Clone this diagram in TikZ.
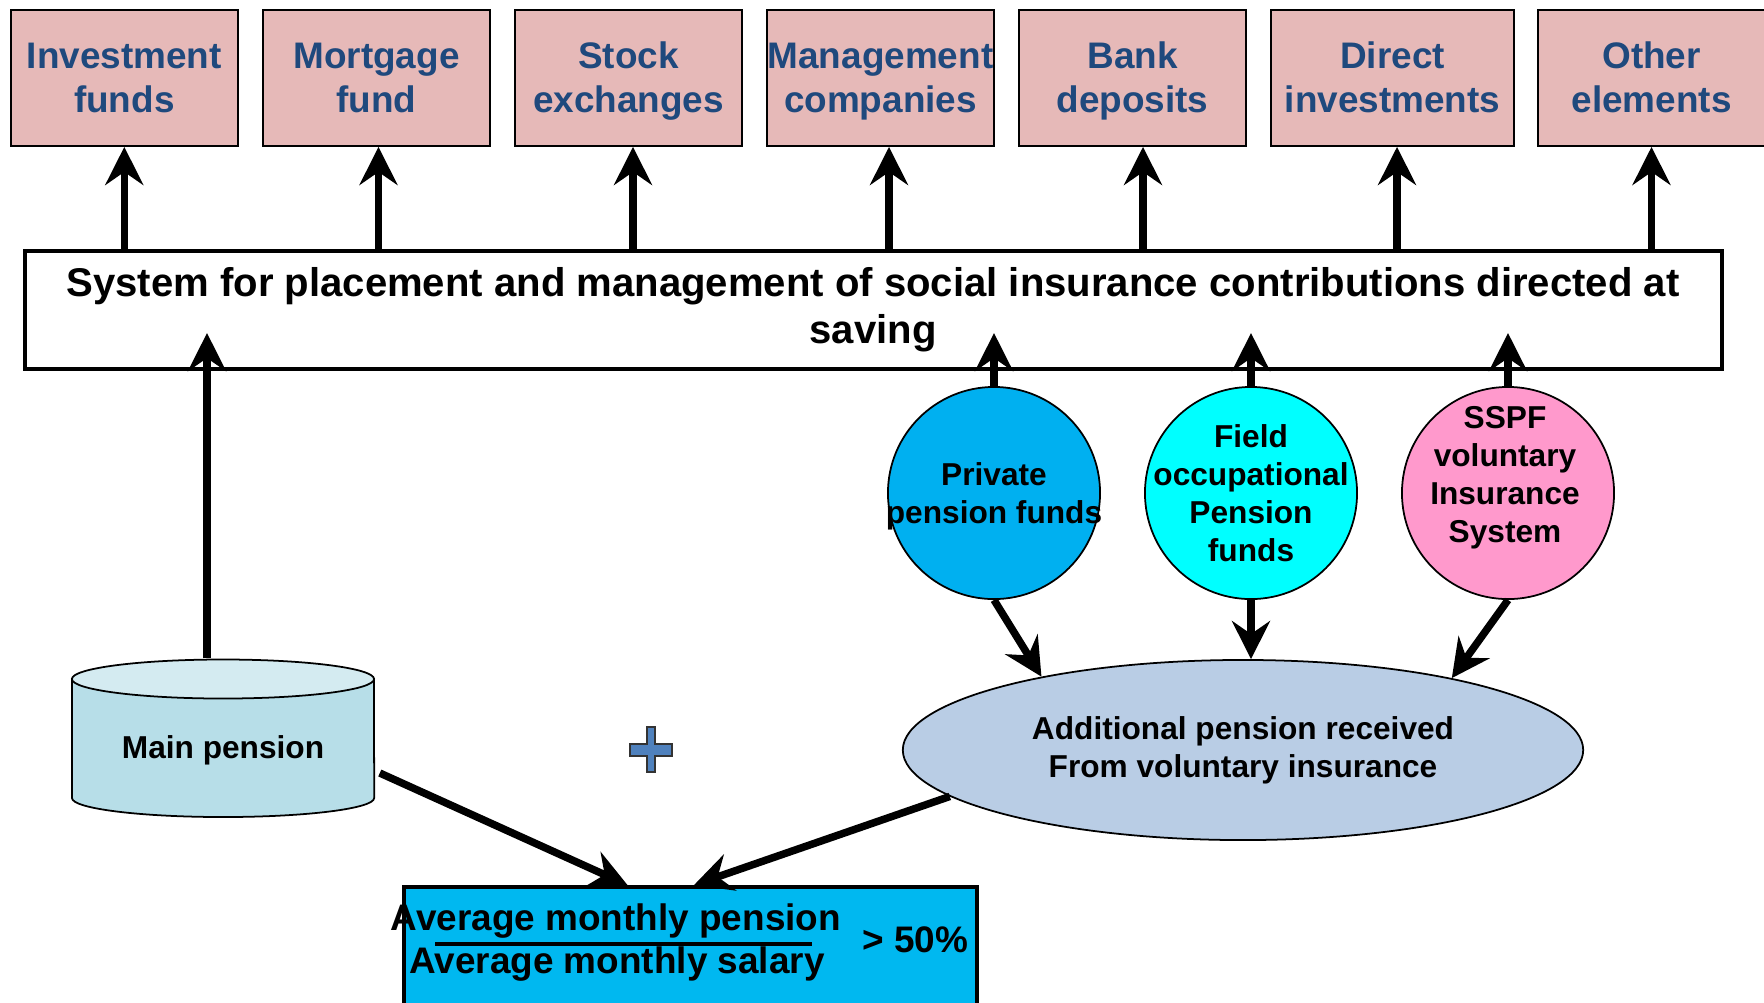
\documentclass[tikz,border=0pt]{standalone}
\usepackage{fontspec}
\setmainfont{Liberation Sans}
\usetikzlibrary{shapes.geometric, arrows.meta, positioning, calc}
\definecolor{boxpink}{HTML}{E6B9B8}
\definecolor{textblue}{HTML}{1F497D}
\definecolor{pfblue}{HTML}{00B0F0}
\definecolor{ofcyan}{HTML}{00FFFF}
\definecolor{svpink}{HTML}{FF99CC}
\definecolor{addblue}{HTML}{B9CDE5}
\definecolor{resblue}{HTML}{00B8F0}
\definecolor{cylbody}{HTML}{B7DEE8}
\definecolor{cyltop}{HTML}{D4EBF1}
\definecolor{plusblue}{HTML}{4F81BD}

\begin{document}
\begin{tikzpicture}[x=0.01cm, y=-0.01cm,
  topbox/.style={draw=black, line width=0.5pt, fill=boxpink, text=textblue,
    font=\bfseries\fontsize{10.5}{12.5}\selectfont, align=center,
    minimum height=1.36cm, inner xsep=0pt, text height=22.6pt, text depth=3pt},
  arr/.style={line width=0.075cm, -{Stealth[length=0.38cm, width=0.38cm, inset=0.13cm]}},
  circ/.style={circle, draw=black, line width=0.5pt, minimum size=2.12cm, inner sep=0pt},
  ctext/.style={font=\bfseries\fontsize{9}{10.8}\selectfont, align=center},
  restext/.style={font=\bfseries\fontsize{10.5}{12.5}\selectfont, anchor=base}]

  \useasboundingbox (0,0) rectangle (1764,1002);
  \clip (0,0) rectangle (1764,1002);

  % Placement targets (TOP ROW)
  \foreach \n/\x/\w/\txt in {1/124.3/2.27/{Investment\\funds}, 2/376.5/2.27/{Mortgage\\fund},
      3/628.5/2.27/{Stock\\exchanges}, 4/880.5/2.27/{Management\\companies},
      5/1132.5/2.27/{Bank\\deposits}, 6/1392.5/2.43/{Direct\\investments},
      7/1651.5/2.27/{Other\\elements}}
    \node[topbox, minimum width=\w cm] (t\n) at (\x,78) {\txt};

  % Central system box
  \node[draw, line width=0.04cm, fill=white, minimum width=16.96cm, minimum height=1.18cm,
    font=\bfseries\fontsize{11.4}{13.4}\selectfont, align=center] (sys) at (873,310)
    {System for placement and management of social insurance contributions directed at\\saving};

  \foreach \n/\d in {1/0, 2/2, 3/4.5, 4/8.5, 5/10.5, 6/4.5, 7/0}
    \draw[arr] ($(sys.north -| t\n.south)+(\d,0)$) -- ($(t\n.south)+(\d,0)$);

  % Voluntary insurance funds (circles)
  \node[circ, fill=pfblue] (pf) at (994,493) {};
  \node[ctext] (pft) at ($(pf)+(0,3)$) {Private\\pension funds};
  \node[circ, fill=ofcyan] (of) at (1251,493) {};
  \node[ctext] (oft) at (of) {Field\\occupational\\Pension\\funds};
  \node[circ, fill=svpink] (sv) at (1508,493) {};
  \node[ctext] (svt) at ($(sv)+(-3,-15)$) {SSPF\\voluntary\\Insurance\\System};

  \foreach \c in {pf, of, sv}
    \draw[arr] (\c.north) -- ($(\c.north |- sys.south)+(0,-38)$);

  % Additional pension
  \node[ellipse, draw=black, line width=0.5pt, fill=addblue, minimum width=6.8cm,
    minimum height=1.8cm, ctext] (addp) at (1243,750)
    {Additional pension received\\From voluntary insurance};

  \draw[arr] (pf.south) -- (addp.160);
  \draw[arr] (of.south) -- (of.south |- addp.north);
  \draw[arr] (sv.south) -- (addp.19);

  % Main pension (cylinder)
  \fill[cylbody, draw=black, line width=0.5pt] (72,679) -- (72,798)
    arc[start angle=180, end angle=360, x radius=1.51cm, y radius=0.19cm] -- (374,679) -- cycle;
  \filldraw[fill=cyltop, line width=0.5pt] (223,679) ellipse[x radius=1.51cm, y radius=0.195cm];
  \node[minimum width=3.02cm, minimum height=1.58cm] (mp) at (223,738) {};
  \node[ctext] (mpt) at ($(mp)+(0,12)$) {Main pension};

  \draw[arr] ($(mp.north)+(-16,0)$) -- ($(mp.north |- sys.south)+(-16,-38)$);

  % Plus sign
  \filldraw[fill=plusblue, draw=black!80, line width=0.5pt]
    (647,727) -- (655,727) -- (655,744) -- (672,744) -- (672,756) -- (655,756) -- (655,772)
    -- (647,772) -- (647,756) -- (630,756) -- (630,744) -- (647,744) -- cycle;

  % Result ratio box (BOTTOM)
  \node[draw, line width=0.04cm, fill=resblue, minimum width=5.73cm, minimum height=1.6cm,
    anchor=north] (res) at (690.5,885) {};
  \node[restext] (num) at (616,930) {Average monthly pension};
  \node[restext] (den) at (617,973) {Average monthly salary};
  \node[restext] (pct) at (915.5,952) {> 50\%};
  \draw[line width=0.04cm] (435,944) -- (812,944);

  \draw[arr] ($(mp.east)+(5,35)$) -- ($(res.north)+(-63,0)$);
  \draw[arr] (addp.189) -- ($(res.north)+(3.5,0)$);
\end{tikzpicture}
\end{document}
